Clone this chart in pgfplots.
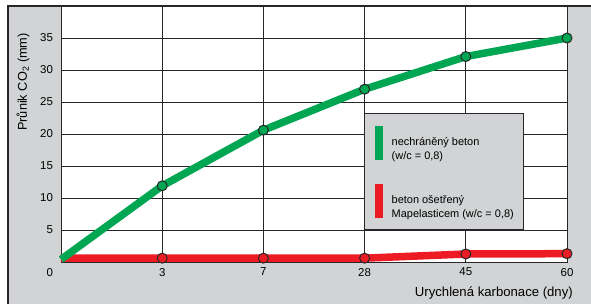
\documentclass[border=0pt]{standalone}
\usepackage{fontspec}
\setmainfont{Liberation Sans}
\usepackage{pgfplots}
\pgfplotsset{compat=1.18}
\definecolor{bggrey}{RGB}{209,211,212}
\definecolor{mgreen}{RGB}{0,166,81}
\definecolor{mred}{RGB}{237,28,36}
\definecolor{gridc}{RGB}{40,38,40}
\begin{document}
\begin{tikzpicture}
\fill[bggrey] (-53bp,-42bp) rectangle (530bp,256bp);
\draw[line width=1.4bp, gridc] (-53bp,-42bp) -- (-53bp,256bp) -- (530bp,256bp);
\begin{axis}[
  at={(0,0)}, anchor=south west,
  width=506bp, height=256bp, scale only axis,
  xmin=0, xmax=5, ymin=0, ymax=40,
  xtick={0,1,2,3,4,5},
  xticklabels={\makebox[0pt][r]{0\hspace{8bp}},3,7,28,45,60},
  ytick={5,10,15,20,25,30,35},
  major tick length=0pt,
  grid=major,
  major grid style={gridc, line width=0.9bp},
  axis line style={gridc, line width=0.9bp},
  axis background/.style={fill=white},
  /pgf/number format/assume math mode=true,
  tick label style={font=\fontsize{11.5}{13}\selectfont},
  xticklabel style={yshift=-2.5bp},
  yticklabel style={xshift=-4.5bp},
  xlabel={Urychlená karbonace (dny)},
  xlabel style={at={(axis description cs:1,0)}, anchor=east, inner sep=0pt, xshift=6bp, yshift=-31bp, font=\fontsize{13.2}{15}\selectfont},
  ylabel={Průnik CO\textsubscript{2} (mm)},
  ylabel style={at={(axis description cs:-0.075,0.703)}, anchor=center, inner sep=0pt, font=\fontsize{12.8}{15}\selectfont},
  clip=false,
  reverse legend,
  legend cell align=left,
  legend style={at={(axis description cs:0.599,0.582)}, anchor=north west,
    fill=bggrey, draw=gridc, line width=1.2bp,
    inner xsep=10bp, inner ysep=12bp, row sep=24bp, column sep=9bp,
    font=\fontsize{11}{13}\selectfont, nodes={inner sep=0pt}},
  legend image code/.code={\fill[draw=none] (0bp,-19bp) rectangle (8bp,15bp);},
]
\addplot[mred, line width=7.5bp, line join=round, mark=*, mark indices={2,3,4,5,6},
  mark options={fill=mred, draw=gridc, line width=1bp, scale=1}, mark size=5bp]
  coordinates {(0,0.6) (1,0.6) (2,0.6) (3,0.6) (4,1.25) (5,1.3)};
\addlegendentry{\renewcommand{\arraystretch}{1.15}\begin{tabular}[t]{@{}l@{}}beton ošetřený\\Mapelasticem (w/c = 0,8)\end{tabular}}
\addplot[mgreen, line width=7.5bp, line join=round, mark=*, mark indices={2,3,4,5,6},
  mark options={fill=mgreen, draw=gridc, line width=1bp, scale=1}, mark size=5bp]
  coordinates {(0,0.4) (1,11.9) (2,20.6) (3,27.0) (4,32.1) (5,35.0)};
\addlegendentry{\renewcommand{\arraystretch}{1.15}\begin{tabular}[t]{@{}l@{}}nechráněný beton\\(w/c = 0,8)\end{tabular}}
\end{axis}
\pgfresetboundingbox
\useasboundingbox (-61bp,-42bp) rectangle (530bp,262bp);
\end{tikzpicture}
\end{document}
